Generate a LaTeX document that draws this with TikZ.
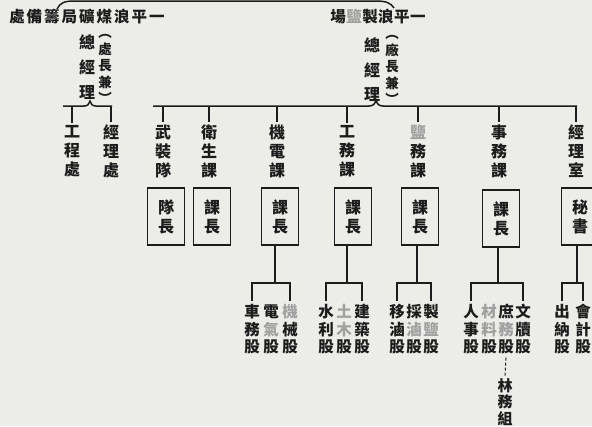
\documentclass[tikz,border=0pt]{standalone}
\usepackage{fontspec}
\setmainfont{Noto Sans CJK TC}
\definecolor{ink}{RGB}{28,28,28}
\definecolor{faint}{RGB}{160,160,160}
\definecolor{paper}{RGB}{236,236,233}
\newcommand\fa[1]{{\color{faint}#1}}
\begin{document}
\begin{tikzpicture}[x=1pt,y=-1pt,
  every node/.style={inner sep=0pt, text=ink},
  ln/.style={draw=ink, line width=1.5pt},
  titleA/.style={font=\bfseries\fontsize{15.5}{15.5}\selectfont},
  head/.style={align=center, font=\bfseries\fontsize{16}{25}\selectfont},
  paren/.style={align=center, font=\bfseries\fontsize{13.5}{16.5}\selectfont},
  dept/.style={align=center, font=\bfseries\fontsize{16}{19}\selectfont},
  box/.style={draw=ink, line width=1.4pt, minimum width=37pt, minimum height=57pt,
              align=center, font=\bfseries\fontsize{16}{19}\selectfont},
  sec/.style={align=center, font=\bfseries\fontsize{15.5}{17.5}\selectfont},
]
\useasboundingbox (0,0) rectangle (592,426);
\fill[paper] (0,0) rectangle (592,426);
\clip (0,0) rectangle (592,426);

% ---- titles
\node[titleA] (lt) at (87,17) {處\hspace{2pt}備\hspace{2pt}籌\hspace{2pt}局\hspace{2pt}礦\hspace{2pt}煤\hspace{2pt}浪\hspace{2pt}平\hspace{2pt}一};
\node[titleA] (rt) at (378,17) {場\hspace{0.5pt}\fa{鹽}\hspace{0.5pt}製\hspace{0.5pt}浪\hspace{0.5pt}平\hspace{0.5pt}一};
\coordinate (tL) at (57,9);
\coordinate (tR) at (394,8);
\draw[ln] (tL) .. controls (60,3) and (64,1) .. (74,1) -- (376,1) .. controls (386,1) and (391,3) .. (tR);

% ---- left block
\node[head] (lgm) at (87,67) {總\\經\\理};
\node[paren] (lpar) at (105,69) {︵\\處\\長\\兼\\︶};
\coordinate (lL) at (63,106);
\coordinate (lR) at (112,106);
\draw[ln] (lL) -- (84,106) .. controls (88,106) and (89,104) .. (90,101) .. controls (91,104) and (92,106) .. (96,106) -- (lR);
\node[dept] (lgc) at (72,151) {工\\程\\處};
\node[dept] (ljl) at (111,151) {經\\理\\處};
\draw[ln] (lgc.north |- lL) -- ([yshift=2pt]lgc.north);
\draw[ln] (ljl.north |- lR) -- ([yshift=2pt]ljl.north);

% ---- right block
\node[head, font=\bfseries\fontsize{16}{24.5}\selectfont] (rgm) at (372,70) {總\\經\\理};
\node[paren] (rpar) at (392,70) {︵\\廠\\長\\兼\\︶};
\coordinate (mL) at (153,106);
\coordinate (mR) at (577,106);
\draw[ln] (mL) -- (369,106) .. controls (373,106) and (375,104) .. (376,100) .. controls (377,104) and (379,106) .. (383,106) -- (mR);

\node[dept] (d1) at (163,151) {武\\裝\\隊};
\node[dept] (d2) at (209,151) {衛\\生\\課};
\node[dept] (d3) at (277,151) {機\\電\\課};
\node[dept] (d4) at (347,151) {工\\務\\課};
\node[dept] (d5) at (418,151) {\fa{鹽}\\務\\課};
\node[dept] (d6) at (499,151) {事\\務\\課};
\node[dept] (d7) at (576,151) {經\\理\\室};
\foreach \d in {d1,d2,d3,d4,d5,d6,d7}
  \draw[ln] (\d.north |- mL) -- ([yshift=2pt]\d.north);

\node[box] (b1) at (166,216.5) {隊\\長};
\node[box] (b2) at (212,216.5) {課\\長};
\node[box] (b3) at (280,216.5) {課\\長};
\node[box] (b4) at (353,216.5) {課\\長};
\node[box] (b5) at (420,216.5) {課\\長};
\node[box] (b6) at (501,218.5) {課\\長};
\node[box] (b7) at (580,216.5) {秘\\書};

% ---- sections
\coordinate (bar) at (0,283);
\node[sec] (s11) at (252,329.5) {車\\務\\股};
\node[sec] (s12) at (271,329.5) {電\\\fa{氣}\\股};
\node[sec] (s13) at (290,329.5) {\fa{機}\\械\\股};
\node[sec] (s21) at (326,329.5) {水\\利\\股};
\node[sec] (s22) at (344,329.5) {\fa{土}\\\fa{木}\\股};
\node[sec] (s23) at (362,329.5) {建\\築\\股};
\node[sec] (s31) at (397,329.5) {移\\滷\\股};
\node[sec] (s32) at (414,329.5) {採\\\fa{滷}\\股};
\node[sec] (s33) at (431,329.5) {製\\\fa{鹽}\\股};
\node[sec] (s41) at (471,329.5) {人\\事\\股};
\node[sec] (s42) at (489,329.5) {\fa{材}\\\fa{料}\\股};
\node[sec] (s43) at (506,329.5) {庶\\\fa{務}\\股};
\node[sec] (s44) at (523,329.5) {文\\牘\\股};
\node[sec] (s51) at (562,329.5) {出\\納\\股};
\node[sec] (s52) at (583,329.5) {會\\計\\股};
\node[sec, font=\bfseries\fontsize{15}{16.5}\selectfont] (lw) at (505,402) {林\\務\\組};

% box -> bar
\draw[ln] ([xshift=-5pt]b3.south) -- ([xshift=-5pt]b3.south |- bar);
\draw[ln] ([xshift=-6pt]b4.south) -- ([xshift=-6pt]b4.south |- bar);
\draw[ln] ([xshift=-3pt]b5.south) -- ([xshift=-3pt]b5.south |- bar);
\draw[ln] ([xshift=-3pt]b6.south) -- ([xshift=-3pt]b6.south |- bar);
\draw[ln] ([xshift=-3pt]b7.south) -- ([xshift=-3pt]b7.south |- bar);

% bars and drops
\foreach \a/\b in {s11/s13, s21/s23, s31/s33, s41/s44, s51/s52}{
  \draw[ln] ([xshift=-1pt]\a.north |- bar) -- ([xshift=1pt]\b.north |- bar);
  \draw[ln] (\a.north |- bar) -- ([yshift=3pt]\a.north);
  \draw[ln] (\b.north |- bar) -- ([yshift=3pt]\b.north);
}
\draw[draw=ink, line width=1pt, densely dashed] ([yshift=-3pt]s43.south) -- ([yshift=2pt]lw.north);
\end{tikzpicture}
\end{document}
